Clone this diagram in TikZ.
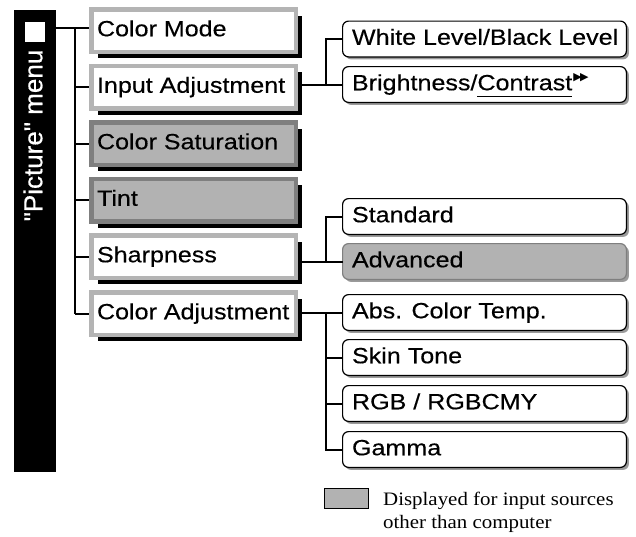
\documentclass[tikz,border=0pt]{standalone}
\usepackage{fontspec}
\setmainfont{Liberation Serif}[FakeStretch=1.1]
\newfontfamily\boxfont{Liberation Sans}[FakeStretch=1.14, FakeBold=0.35]
\newfontfamily\titlefont{Liberation Sans}[FakeBold=0.35]
\newfontfamily\symfont{DejaVu Sans}
\usetikzlibrary{shadows}
\definecolor{framegray}{HTML}{B4B4B4}
\definecolor{darkframe}{HTML}{7F7F7F}
\definecolor{fillgray}{HTML}{B2B2B2}
\definecolor{shadowgray}{HTML}{9A9A9A}
\newcommand\lbtext[1]{\makebox[193pt][l]{#1}}
\newcommand\rbtext[1]{\makebox[265pt][l]{#1}}
\newcommand\myul[1]{\setbox0\hbox{#1}\rlap{\rule[-6.5pt]{\wd0}{1.2pt}}\box0}
\tikzset{
  conn/.style={line width=2pt, draw=black},
  leftbox/.style={draw=framegray, line width=4.5pt, fill=white,
    minimum width=204.5pt, minimum height=42.5pt, inner xsep=5.75pt, inner ysep=0pt,
    text height=16pt, text depth=4.5pt, outer sep=0pt,
    font=\boxfont\fontsize{22}{26}\selectfont,
    drop shadow={shadow xshift=6.25pt, shadow yshift=-6.25pt, fill=black, opacity=1}},
  leftgray/.style={leftbox, draw=darkframe, fill=fillgray},
  rightbox/.style={draw=black, line width=1.2pt, rounded corners=6pt, fill=white,
    minimum width=283.8pt, minimum height=35.8pt, inner xsep=9.4pt, inner ysep=0pt,
    text height=16pt, text depth=4.5pt, outer sep=0pt,
    font=\boxfont\fontsize{22}{26}\selectfont,
    drop shadow={shadow xshift=2.5pt, shadow yshift=-2.5pt, fill=shadowgray, opacity=1}},
  rightgray/.style={rightbox, draw=darkframe, fill=fillgray}
}
\begin{document}
\begin{tikzpicture}[x=1pt, y=-1pt]
\useasboundingbox (0,0) rectangle (636,536);
% title bar
\node[fill=black, minimum width=42pt, minimum height=462pt, inner sep=0pt, outer sep=0pt] (bar) at (35,241) {};
\node[fill=white, minimum width=20pt, minimum height=20pt, inner sep=0pt] (sq) at (35,32) {};
\node[text=white, inner sep=0pt, font=\titlefont\fontsize{26}{26}\selectfont] (title) at (33,135.5)
  {\rotatebox{90}{"Picture" menu}};
% left boxes
\node[leftbox] (cm) at (193.5,30.5) {\lbtext{Color Mode}};
\node[leftbox] (ia) at (193.5,87) {\lbtext{Input Adjustment}};
\node[leftgray] (cs) at (193.5,143.5) {\lbtext{Color Saturation}};
\node[leftgray] (tint) at (193.5,200) {\lbtext{Tint}};
\node[leftbox] (sh) at (193.5,256.5) {\lbtext{Sharpness}};
\node[leftbox] (ca) at (193.5,313.5) {\lbtext{Color Adjustment}};
% right boxes
\node[rightbox] (wl) at (484.5,39) {\rbtext{White Level/Black Level}};
\node[rightbox] (bc) at (484.5,84.5) {\rbtext{Brightness/\myul{Contrast}\hspace{1pt}\raisebox{10pt}{\symfont\fontsize{11}{11}\selectfont ▶\kern-1.5pt▶}}};
\node[rightbox] (std) at (484.5,216.5) {\rbtext{Standard}};
\node[rightgray] (adv) at (484.5,261.5) {\rbtext{Advanced}};
\node[rightbox] (abs) at (484.5,312.5) {\rbtext{Abs. Color Temp.}};
\node[rightbox] (skin) at (484.5,357.5) {\rbtext{Skin Tone}};
\node[rightbox] (rgb) at (484.5,403.5) {\rbtext{RGB / RGBCMY}};
\node[rightbox] (gam) at (484.5,449.5) {\rbtext{Gamma}};
% legend
\node[draw=black, line width=1pt, fill=fillgray, minimum width=44pt, minimum height=20pt, inner sep=0pt] (leg) at (346.5,498.5) {};
\node[anchor=north west, inner sep=0pt, align=left, font=\fontsize{19}{23}\selectfont] (legtext) at (383,492)
  {Displayed for input sources\\other than computer};
% connectors left
\coordinate (j0) at (75,28);
\draw[conn, shorten >=2.25pt] (bar.east |- j0) -- (j0 -| cm.west);
\draw[conn] (j0) -- (j0 |- ca.west);
\foreach \n in {ia,cs,tint,sh,ca}
  \draw[conn, shorten >=2.25pt] (j0 |- \n.west) -- (\n.west);
% connectors right
\coordinate (tA) at (326,0);
\draw[conn, shorten <=2.25pt] (ia.east |- bc.west) -- (bc.west);
\draw[conn] (tA |- bc.west) |- (wl.west);
\draw[conn, shorten <=2.25pt] (sh.east |- adv.west) -- (adv.west);
\draw[conn] (tA |- adv.west) |- (std.west);
\draw[conn, shorten <=2.25pt] (ca.east |- abs.west) -- (abs.west);
\draw[conn] (tA |- abs.west) |- (gam.west);
\draw[conn] (tA |- skin.west) -- (skin.west);
\draw[conn] (tA |- rgb.west) -- (rgb.west);
\end{tikzpicture}
\end{document}
